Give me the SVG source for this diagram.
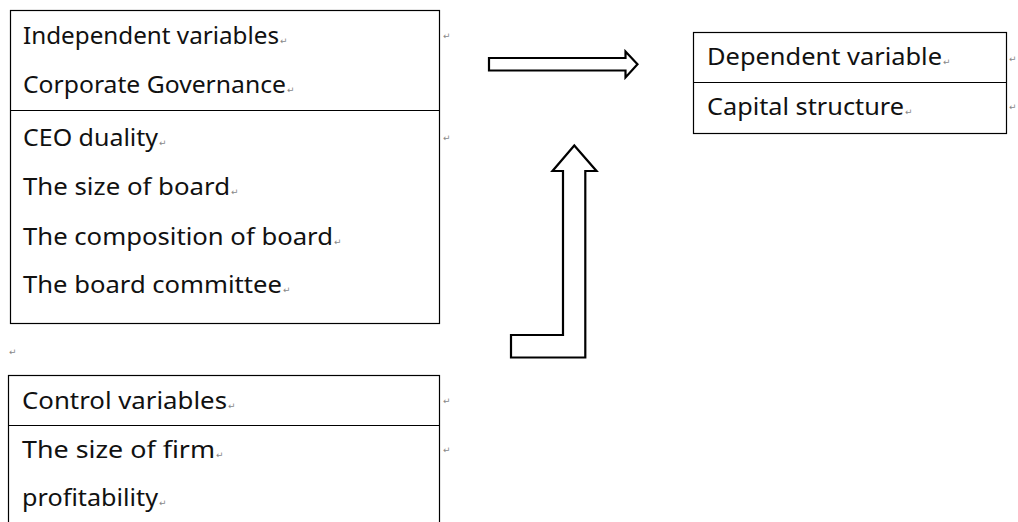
<svg xmlns="http://www.w3.org/2000/svg" width="1018" height="522" viewBox="0 0 1018 522">
<style>
.box{fill:#fff;stroke:#000;stroke-width:1.2}
.div{stroke:#000;stroke-width:1.2}
.t{font-family:"Noto Sans","Liberation Sans",sans-serif;font-size:24px;fill:#111}
.m{font-family:"DejaVu Sans",sans-serif;font-size:9px;fill:#888}
.arr{fill:#fff;stroke:#000;stroke-width:2.2;stroke-linejoin:miter}
</style>
<rect width="1018" height="522" fill="#fff"/>
<g id="independent">
<rect class="box" x="10.5" y="10.5" width="429" height="313"/>
<line class="div" x1="10.5" y1="110.5" x2="439.5" y2="110.5"/>
<text class="t" x="23" y="44" textLength="256" lengthAdjust="spacingAndGlyphs">Independent variables</text>
<text class="m" x="280" y="44">↵</text>
<text class="t" x="23" y="93" textLength="263" lengthAdjust="spacingAndGlyphs">Corporate Governance</text>
<text class="m" x="287" y="93">↵</text>
<text class="t" x="23" y="146" textLength="135" lengthAdjust="spacingAndGlyphs">CEO duality</text>
<text class="m" x="159" y="146">↵</text>
<text class="t" x="23" y="195" textLength="207" lengthAdjust="spacingAndGlyphs">The size of board</text>
<text class="m" x="231" y="195">↵</text>
<text class="t" x="23" y="245" textLength="310" lengthAdjust="spacingAndGlyphs">The composition of board</text>
<text class="m" x="334" y="245">↵</text>
<text class="t" x="23" y="293" textLength="259" lengthAdjust="spacingAndGlyphs">The board committee</text>
<text class="m" x="283" y="293">↵</text>
<text class="m" x="443" y="39">↵</text>
<text class="m" x="443" y="141">↵</text>
</g>
<text class="m" x="9" y="355">↵</text>
<g id="control">
<rect class="box" x="8.5" y="375.5" width="431" height="160"/>
<line class="div" x1="8.5" y1="425.5" x2="439.5" y2="425.5"/>
<text class="t" x="22" y="409" textLength="205" lengthAdjust="spacingAndGlyphs">Control variables</text>
<text class="m" x="228" y="409">↵</text>
<text class="t" x="22" y="458" textLength="193" lengthAdjust="spacingAndGlyphs">The size of firm</text>
<text class="m" x="216" y="458">↵</text>
<text class="t" x="22" y="506" textLength="136" lengthAdjust="spacingAndGlyphs">profitability</text>
<text class="m" x="159" y="506">↵</text>
<text class="m" x="443" y="404">↵</text>
<text class="m" x="443" y="453">↵</text>
</g>
<g id="dependent">
<rect class="box" x="693.5" y="32.5" width="313" height="101"/>
<line class="div" x1="693.5" y1="82.5" x2="1006.5" y2="82.5"/>
<text class="t" x="707" y="65" textLength="235" lengthAdjust="spacingAndGlyphs">Dependent variable</text>
<text class="m" x="943" y="65">↵</text>
<text class="t" x="707" y="115" textLength="197" lengthAdjust="spacingAndGlyphs">Capital structure</text>
<text class="m" x="905" y="115">↵</text>
<text class="m" x="1009" y="62">↵</text>
<text class="m" x="1009" y="110">↵</text>
</g>
<g id="connectors">
<polygon class="arr" points="489,58 625.5,58 625.5,51.5 637.5,64.3 625.5,77.5 625.5,70.5 489,70.5"/>
<polygon class="arr" points="511,335 563,335 563,171 552.5,171 574.3,145.5 596.5,171 585.3,171 585.3,357.5 511,357.5"/>
</g>
</svg>
